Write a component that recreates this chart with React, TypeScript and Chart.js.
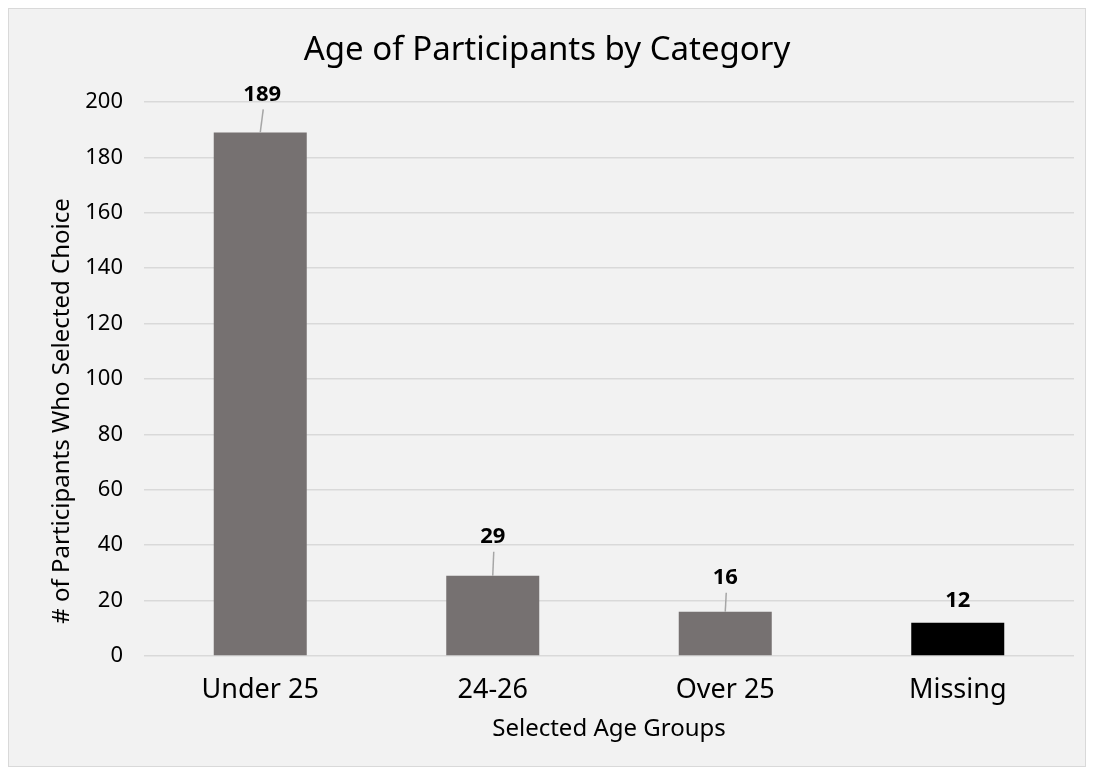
import React, { useEffect, useRef } from "react";
import { Chart, registerables } from "chart.js";

Chart.register(...registerables);

const categories = ["Under 25", "24-26", "Over 25", "Missing"];
const participantCounts = [189, 29, 16, 12];
const barColors = ["#767171", "#767171", "#767171", "#000000"];
const yTickMax = 200;
const yTickStep = 20;
const chartTitle = "Age of Participants by Category";
const yAxisTitle = "# of Participants Who Selected Choice";
const xAxisTitle = "Selected Age Groups";

// label placement (style only): lift above bar top in px, horizontal nudge in px
const labelLift = [38, 39, 34, 22];
const labelNudge = [2, 0, 0, 0];

const FONT = "'Noto Sans', sans-serif";

const leaderLabelPlugin = {
  id: "leaderLabels",
  afterDatasetsDraw(chart: any) {
    const { ctx } = chart;
    const meta = chart.getDatasetMeta(0);
    const data = chart.data.datasets[0].data as number[];
    ctx.save();
    meta.data.forEach((bar: any, i: number) => {
      const x = bar.x;
      const top = bar.y;
      const ly = top - labelLift[i];
      const lx = x + labelNudge[i];
      const lineTop = ly + 15;
      if (top - lineTop > 8) {
        ctx.strokeStyle = "#a6a6a6";
        ctx.lineWidth = 1.5;
        ctx.beginPath();
        ctx.moveTo(lx + 1, lineTop);
        ctx.lineTo(x, top);
        ctx.stroke();
      }
      ctx.fillStyle = "#000000";
      ctx.font = `bold 22px ${FONT}`;
      ctx.textAlign = "center";
      ctx.textBaseline = "middle";
      ctx.fillText(String(data[i]), lx, ly);
    });
    ctx.restore();
  },
};

const titlesPlugin = {
  id: "customTitles",
  afterDraw(chart: any) {
    const { ctx } = chart;
    ctx.save();
    ctx.fillStyle = "#000000";
    ctx.textAlign = "center";
    ctx.textBaseline = "alphabetic";
    ctx.font = `33px ${FONT}`;
    ctx.fillText(chartTitle, 538, 51);
    ctx.translate(53, 402);
    ctx.rotate(-Math.PI / 2);
    ctx.textBaseline = "middle";
    ctx.font = `24px ${FONT}`;
    ctx.fillText(yAxisTitle, 0, 0);
    ctx.restore();
  },
};

export default function App() {
  const canvasRef = useRef<HTMLCanvasElement | null>(null);

  useEffect(() => {
    if (!canvasRef.current) return;
    const chart = new Chart(canvasRef.current, {
      type: "bar",
      data: {
        labels: categories,
        datasets: [
          {
            data: participantCounts,
            backgroundColor: barColors,
            borderWidth: 0,
            categoryPercentage: 1,
            barPercentage: 0.4,
          },
        ],
      },
      options: {
        responsive: false,
        animation: false,
        maintainAspectRatio: false,
        layout: { padding: { left: 0, right: 11, top: 93, bottom: 0 } },
        plugins: {
          legend: { display: false },
          tooltip: { enabled: false },
          title: { display: false },
        },
        scales: {
          x: {
            grid: { display: false, drawTicks: false },
            border: { display: false },
            ticks: {
              color: "#000000",
              font: { family: FONT, size: 27 },
              padding: 18,
              maxRotation: 0,
            },
            title: {
              display: true,
              text: xAxisTitle,
              color: "#000000",
              font: { family: FONT, size: 24 },
              padding: { top: 0, bottom: 22 },
            },
            afterFit(scale: any) {
              scale.height = 110;
            },
          },
          y: {
            min: 0,
            max: yTickMax,
            ticks: {
              stepSize: yTickStep,
              color: "#000000",
              font: { family: FONT, size: 22 },
              padding: 21,
            },
            grid: { color: "#d9d9d9", lineWidth: 1.5, drawTicks: false },
            border: { display: false },
            title: { display: false },
            afterFit(scale: any) {
              scale.width = 135;
            },
          },
        },
      },
      plugins: [leaderLabelPlugin, titlesPlugin],
    });
    return () => chart.destroy();
  }, []);

  return (
    <div
      style={{
        width: 1076,
        height: 757,
        border: "1px solid #d9d9d9",
        background: "#f2f2f2",
      }}
    >
      <canvas ref={canvasRef} width={1076} height={757} style={{ display: "block" }} />
    </div>
  );
}
